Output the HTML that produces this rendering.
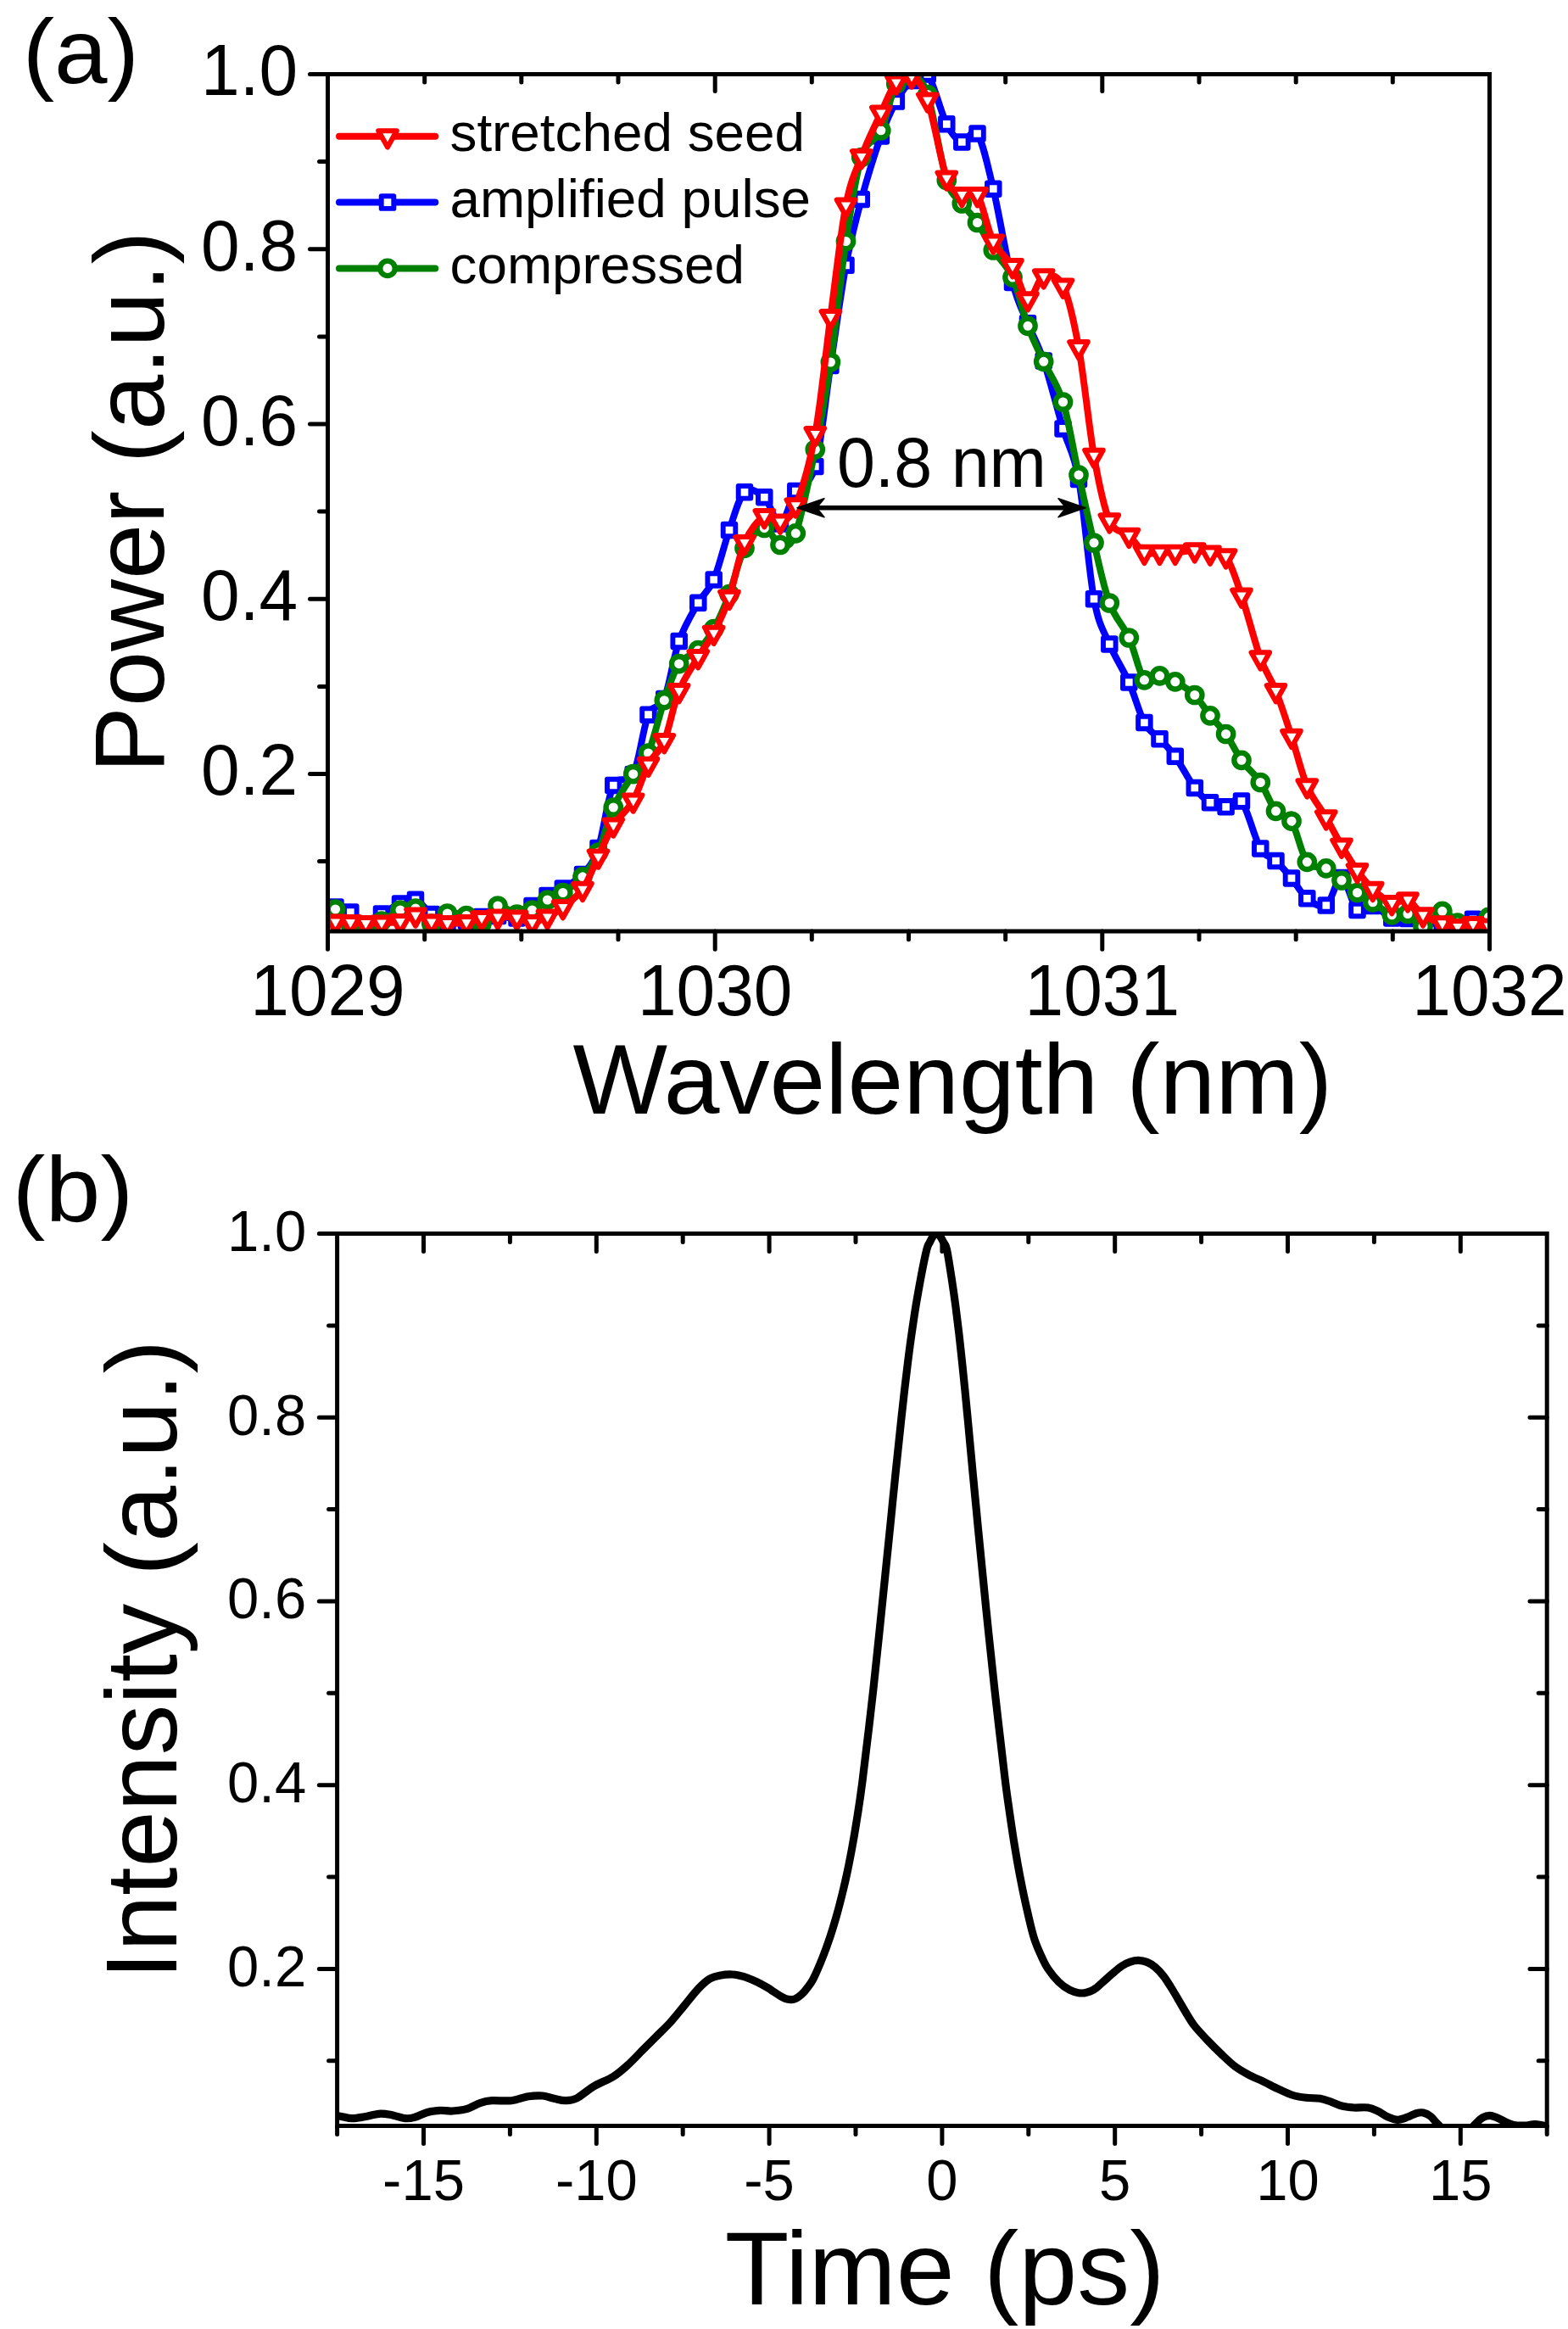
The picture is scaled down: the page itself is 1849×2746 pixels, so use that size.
<!DOCTYPE html>
<html><head><meta charset="utf-8"><title>Figure</title><style>html,body{margin:0;padding:0;background:#fff}svg{display:block}</style></head><body>
<svg width="1849" height="2746" viewBox="0 0 1849 2746" font-family='"Liberation Sans", sans-serif' fill="#000">
<rect width="1849" height="2746" fill="#fff"/>
<defs><clipPath id="ca"><rect x="386.5" y="87.5" width="1370" height="1010.5"/></clipPath><clipPath id="cb"><rect x="397.6" y="1454.5" width="1426.6" height="1052"/></clipPath></defs>
<path d="M386.5 1098.0V1119.3M500.7 1098.0V1107.8M500.7 87.5V97.0M614.8 1098.0V1107.8M614.8 87.5V97.0M729.0 1098.0V1107.8M729.0 87.5V97.0M843.2 1098.0V1119.3M843.2 87.5V107.5M957.3 1098.0V1107.8M957.3 87.5V97.0M1071.5 1098.0V1107.8M1071.5 87.5V97.0M1185.7 1098.0V1107.8M1185.7 87.5V97.0M1299.8 1098.0V1119.3M1299.8 87.5V107.5M1414.0 1098.0V1107.8M1414.0 87.5V97.0M1528.2 1098.0V1107.8M1528.2 87.5V97.0M1642.3 1098.0V1107.8M1642.3 87.5V97.0M1756.5 1098.0V1119.3M386.5 1015.6H376.5M386.5 912.5H365.5M386.5 809.4H376.5M386.5 706.2H365.5M386.5 603.1H376.5M386.5 500.0H365.5M386.5 396.9H376.5M386.5 293.7H365.5M386.5 190.6H376.5M386.5 87.5H365.5" fill="none" stroke="#000" stroke-width="5" stroke-linecap="round"/>
<g clip-path="url(#ca)">
<path d="M377.2 1069.5C380.2 1069.5 389.5 1068.5 395.5 1069.5C401.5 1070.5 407.3 1072.1 413.3 1075.5C419.3 1078.9 425.2 1089.7 431.3 1090.0C437.4 1090.3 443.2 1081.6 450.0 1077.5C456.8 1073.4 465.3 1068.3 472.0 1065.5C478.7 1062.7 483.9 1058.7 490.0 1060.8C496.1 1062.9 502.6 1073.3 508.8 1078.0C515.0 1082.7 520.6 1087.7 527.5 1089.0C534.4 1090.3 543.2 1087.3 550.0 1086.0C556.8 1084.7 561.8 1082.0 568.0 1081.0C574.2 1080.0 580.1 1079.8 587.0 1080.0C593.9 1080.2 602.8 1084.5 609.5 1082.5C616.2 1080.5 621.5 1072.4 627.5 1068.0C633.5 1063.6 639.5 1059.4 645.5 1056.0C651.5 1052.6 656.9 1051.7 663.8 1047.5C670.7 1043.3 680.0 1038.9 687.0 1031.0C694.0 1023.1 699.5 1017.5 705.5 1000.0C711.5 982.5 716.4 940.5 723.3 926.0C730.2 911.5 739.8 926.9 746.7 913.0C753.6 899.1 758.4 857.5 764.5 842.7C770.6 827.9 777.3 838.5 783.3 824.0C789.3 809.5 794.0 774.9 800.7 756.0C807.4 737.1 816.5 722.9 823.3 710.8C830.1 698.7 835.6 697.8 841.7 683.5C847.8 669.2 854.0 642.2 860.0 625.0C866.0 607.8 871.1 586.8 878.0 580.3C884.9 573.8 894.3 580.1 901.3 586.3C908.3 592.5 913.8 618.7 920.0 617.5C926.2 616.3 931.4 590.2 938.3 579.0C945.2 567.8 954.4 574.7 961.3 550.0C968.1 525.3 973.4 470.5 979.4 431.0C985.4 391.5 991.4 345.5 997.5 312.8C1003.6 280.1 1008.9 260.4 1015.8 235.0C1022.7 209.6 1032.0 179.7 1038.8 160.5C1045.6 141.3 1050.8 130.5 1056.8 119.6C1062.8 108.7 1068.8 100.3 1075.0 95.0C1081.2 89.7 1086.9 79.0 1093.8 87.5C1100.7 96.0 1109.5 133.0 1116.3 146.3C1123.0 159.6 1128.3 165.6 1134.3 167.5C1140.3 169.4 1146.3 148.3 1152.5 157.5C1158.7 166.7 1164.4 193.4 1171.3 222.7C1178.2 251.9 1187.2 306.6 1194.0 333.0C1200.8 359.4 1205.9 365.9 1212.0 381.3C1218.1 396.7 1223.8 404.8 1230.7 425.5C1237.6 446.2 1246.6 482.1 1253.5 505.4C1260.4 528.6 1265.9 531.5 1272.0 565.0C1278.1 598.5 1284.0 673.8 1290.0 706.2C1296.0 738.6 1301.4 743.1 1308.3 759.5C1315.2 775.9 1324.4 789.1 1331.3 804.5C1338.2 819.9 1343.4 840.9 1349.4 852.0C1355.4 863.1 1361.4 864.7 1367.5 871.3C1373.6 877.9 1378.9 882.2 1385.8 891.8C1392.7 901.4 1401.9 919.9 1408.8 929.0C1415.7 938.1 1420.9 942.6 1427.0 946.3C1433.1 950.0 1439.4 951.6 1445.6 951.3C1451.8 951.0 1457.2 936.4 1464.0 944.6C1470.8 952.8 1479.5 988.8 1486.3 1000.5C1493.0 1012.2 1498.4 1009.2 1504.5 1015.0C1510.6 1020.8 1516.9 1028.1 1523.0 1035.5C1529.1 1042.9 1534.5 1054.0 1541.3 1059.3C1548.1 1064.6 1557.0 1071.5 1563.8 1067.5C1570.6 1063.5 1575.9 1034.1 1582.0 1035.0C1588.1 1035.9 1594.4 1067.5 1600.5 1073.0C1606.6 1078.5 1612.0 1066.4 1618.8 1068.0C1625.6 1069.6 1634.4 1080.0 1641.3 1082.5C1648.2 1085.0 1653.9 1082.1 1660.0 1083.0C1666.1 1083.9 1671.2 1087.0 1678.0 1088.0C1684.8 1089.0 1694.0 1088.5 1700.8 1088.8C1707.6 1089.1 1712.8 1090.8 1718.8 1090.0C1724.8 1089.2 1730.9 1084.1 1737.0 1083.8C1743.1 1083.5 1749.4 1087.3 1755.5 1088.0C1761.6 1088.7 1770.8 1088.0 1773.8 1088.0" fill="none" stroke="#0000ff" stroke-width="8" stroke-linejoin="round" stroke-linecap="round"/>
<path d="M369.9 1062.2h14.6v14.6h-14.6zM388.2 1062.2h14.6v14.6h-14.6zM406.0 1068.2h14.6v14.6h-14.6zM424.0 1082.7h14.6v14.6h-14.6zM442.7 1070.2h14.6v14.6h-14.6zM464.7 1058.2h14.6v14.6h-14.6zM482.7 1053.5h14.6v14.6h-14.6zM501.5 1070.7h14.6v14.6h-14.6zM520.2 1081.7h14.6v14.6h-14.6zM542.7 1078.7h14.6v14.6h-14.6zM560.7 1073.7h14.6v14.6h-14.6zM579.7 1072.7h14.6v14.6h-14.6zM602.2 1075.2h14.6v14.6h-14.6zM620.2 1060.7h14.6v14.6h-14.6zM638.2 1048.7h14.6v14.6h-14.6zM656.5 1040.2h14.6v14.6h-14.6zM679.7 1023.7h14.6v14.6h-14.6zM698.2 992.7h14.6v14.6h-14.6zM716.0 918.7h14.6v14.6h-14.6zM739.4 905.7h14.6v14.6h-14.6zM757.2 835.4h14.6v14.6h-14.6zM776.0 816.7h14.6v14.6h-14.6zM793.4 748.7h14.6v14.6h-14.6zM816.0 703.5h14.6v14.6h-14.6zM834.4 676.2h14.6v14.6h-14.6zM852.7 617.7h14.6v14.6h-14.6zM870.7 573.0h14.6v14.6h-14.6zM894.0 579.0h14.6v14.6h-14.6zM912.7 610.2h14.6v14.6h-14.6zM931.0 571.7h14.6v14.6h-14.6zM954.0 542.7h14.6v14.6h-14.6zM972.1 423.7h14.6v14.6h-14.6zM990.2 305.5h14.6v14.6h-14.6zM1008.5 227.7h14.6v14.6h-14.6zM1031.5 153.2h14.6v14.6h-14.6zM1049.5 112.3h14.6v14.6h-14.6zM1067.7 87.7h14.6v14.6h-14.6zM1086.5 80.2h14.6v14.6h-14.6zM1109.0 139.0h14.6v14.6h-14.6zM1127.0 160.2h14.6v14.6h-14.6zM1145.2 150.2h14.6v14.6h-14.6zM1164.0 215.4h14.6v14.6h-14.6zM1186.7 325.7h14.6v14.6h-14.6zM1204.7 374.0h14.6v14.6h-14.6zM1223.4 418.2h14.6v14.6h-14.6zM1246.2 498.1h14.6v14.6h-14.6zM1264.7 557.7h14.6v14.6h-14.6zM1282.7 698.9h14.6v14.6h-14.6zM1301.0 752.2h14.6v14.6h-14.6zM1324.0 797.2h14.6v14.6h-14.6zM1342.1 844.7h14.6v14.6h-14.6zM1360.2 864.0h14.6v14.6h-14.6zM1378.5 884.5h14.6v14.6h-14.6zM1401.5 921.7h14.6v14.6h-14.6zM1419.7 939.0h14.6v14.6h-14.6zM1438.3 944.0h14.6v14.6h-14.6zM1456.7 937.3h14.6v14.6h-14.6zM1479.0 993.2h14.6v14.6h-14.6zM1497.2 1007.7h14.6v14.6h-14.6zM1515.7 1028.2h14.6v14.6h-14.6zM1534.0 1052.0h14.6v14.6h-14.6zM1556.5 1060.2h14.6v14.6h-14.6zM1574.7 1027.7h14.6v14.6h-14.6zM1593.2 1065.7h14.6v14.6h-14.6zM1611.5 1060.7h14.6v14.6h-14.6zM1634.0 1075.2h14.6v14.6h-14.6zM1652.7 1075.7h14.6v14.6h-14.6zM1670.7 1080.7h14.6v14.6h-14.6zM1693.5 1081.5h14.6v14.6h-14.6zM1711.5 1082.7h14.6v14.6h-14.6zM1729.7 1076.5h14.6v14.6h-14.6zM1748.2 1080.7h14.6v14.6h-14.6zM1766.5 1080.7h14.6v14.6h-14.6z" fill="#fff" stroke="#0000ff" stroke-width="5.9" stroke-linejoin="round"/>
<path d="M377.2 1072.0C380.2 1072.0 389.5 1069.0 395.5 1072.0C401.5 1075.0 407.3 1086.7 413.3 1090.0C419.3 1093.3 425.2 1092.7 431.3 1092.0C437.4 1091.3 443.2 1089.2 450.0 1086.0C456.8 1082.8 465.3 1075.5 472.0 1073.0C478.7 1070.5 483.9 1068.3 490.0 1071.0C496.1 1073.7 502.6 1088.0 508.8 1089.0C515.0 1090.0 520.6 1078.6 527.5 1077.0C534.4 1075.4 543.2 1077.5 550.0 1079.5C556.8 1081.5 561.8 1090.9 568.0 1089.0C574.2 1087.1 580.1 1069.8 587.0 1068.0C593.9 1066.2 602.8 1077.2 609.5 1078.0C616.2 1078.8 621.5 1075.8 627.5 1073.0C633.5 1070.2 639.5 1064.4 645.5 1061.0C651.5 1057.6 656.9 1057.0 663.8 1052.5C670.7 1048.0 680.0 1041.7 687.0 1033.8C694.0 1025.9 699.5 1018.6 705.5 1005.0C711.5 991.4 716.4 967.4 723.3 952.0C730.2 936.6 739.8 923.4 746.7 912.7C753.6 902.0 758.4 902.5 764.5 888.0C770.6 873.5 777.3 843.2 783.3 825.7C789.3 808.2 794.0 792.5 800.7 782.7C807.4 772.9 816.5 773.5 823.3 766.7C830.1 759.9 835.6 752.7 841.7 741.7C847.8 730.7 854.0 716.4 860.0 700.5C866.0 684.6 871.1 659.3 878.0 646.3C884.9 633.3 894.3 623.1 901.3 622.5C908.3 621.9 913.8 641.5 920.0 642.5C926.2 643.5 931.4 647.5 938.3 628.8C945.2 610.0 954.4 563.6 961.3 530.0C968.1 496.4 973.4 467.9 979.4 427.0C985.4 386.1 991.4 324.8 997.5 284.5C1003.6 244.2 1008.9 207.3 1015.8 185.5C1022.7 163.7 1032.0 168.2 1038.8 153.8C1045.6 139.4 1050.8 109.6 1056.8 99.0C1062.8 88.4 1068.8 87.9 1075.0 90.0C1081.2 92.1 1086.9 91.1 1093.8 111.5C1100.7 131.9 1109.5 191.1 1116.3 212.5C1123.0 233.9 1128.3 231.7 1134.3 240.0C1140.3 248.3 1146.3 253.3 1152.5 262.5C1158.7 271.7 1164.4 284.2 1171.3 295.0C1178.2 305.8 1187.2 312.1 1194.0 327.0C1200.8 341.9 1205.9 367.8 1212.0 384.3C1218.1 400.9 1223.8 411.4 1230.7 426.3C1237.6 441.2 1246.6 451.7 1253.5 474.0C1260.4 496.3 1265.9 532.3 1272.0 560.0C1278.1 587.7 1284.0 614.8 1290.0 640.0C1296.0 665.2 1301.4 692.3 1308.3 711.0C1315.2 729.7 1324.4 736.9 1331.3 752.0C1338.2 767.1 1343.4 794.3 1349.4 801.8C1355.4 809.3 1361.4 796.5 1367.5 796.8C1373.6 797.1 1378.9 800.0 1385.8 803.8C1392.7 807.6 1401.9 812.8 1408.8 819.5C1415.7 826.2 1420.9 836.1 1427.0 843.8C1433.1 851.5 1439.4 856.8 1445.6 865.5C1451.8 874.2 1457.2 886.8 1464.0 896.3C1470.8 905.8 1479.5 912.5 1486.3 922.5C1493.0 932.5 1498.4 948.7 1504.5 956.3C1510.6 963.9 1516.9 958.2 1523.0 968.2C1529.1 978.2 1534.5 1007.0 1541.3 1016.3C1548.1 1025.6 1557.0 1020.2 1563.8 1023.8C1570.6 1027.4 1575.9 1033.2 1582.0 1038.0C1588.1 1042.8 1594.4 1048.2 1600.5 1052.5C1606.6 1056.8 1612.0 1059.4 1618.8 1063.8C1625.6 1068.2 1634.4 1076.5 1641.3 1078.8C1648.2 1081.1 1653.9 1075.2 1660.0 1077.5C1666.1 1079.8 1671.2 1093.0 1678.0 1092.5C1684.8 1092.0 1694.0 1075.0 1700.8 1074.3C1707.6 1073.5 1712.8 1085.0 1718.8 1088.0C1724.8 1091.0 1730.9 1093.1 1737.0 1092.0C1743.1 1090.9 1749.4 1083.1 1755.5 1081.3C1761.6 1079.5 1770.8 1081.3 1773.8 1081.3" fill="none" stroke="#008000" stroke-width="8" stroke-linejoin="round" stroke-linecap="round"/>
<path d="M368.5 1072.0a8.7 8.7 0 1 0 17.4 0a8.7 8.7 0 1 0 -17.4 0zM386.8 1072.0a8.7 8.7 0 1 0 17.4 0a8.7 8.7 0 1 0 -17.4 0zM404.6 1090.0a8.7 8.7 0 1 0 17.4 0a8.7 8.7 0 1 0 -17.4 0zM422.6 1092.0a8.7 8.7 0 1 0 17.4 0a8.7 8.7 0 1 0 -17.4 0zM441.3 1086.0a8.7 8.7 0 1 0 17.4 0a8.7 8.7 0 1 0 -17.4 0zM463.3 1073.0a8.7 8.7 0 1 0 17.4 0a8.7 8.7 0 1 0 -17.4 0zM481.3 1071.0a8.7 8.7 0 1 0 17.4 0a8.7 8.7 0 1 0 -17.4 0zM500.1 1089.0a8.7 8.7 0 1 0 17.4 0a8.7 8.7 0 1 0 -17.4 0zM518.8 1077.0a8.7 8.7 0 1 0 17.4 0a8.7 8.7 0 1 0 -17.4 0zM541.3 1079.5a8.7 8.7 0 1 0 17.4 0a8.7 8.7 0 1 0 -17.4 0zM559.3 1089.0a8.7 8.7 0 1 0 17.4 0a8.7 8.7 0 1 0 -17.4 0zM578.3 1068.0a8.7 8.7 0 1 0 17.4 0a8.7 8.7 0 1 0 -17.4 0zM600.8 1078.0a8.7 8.7 0 1 0 17.4 0a8.7 8.7 0 1 0 -17.4 0zM618.8 1073.0a8.7 8.7 0 1 0 17.4 0a8.7 8.7 0 1 0 -17.4 0zM636.8 1061.0a8.7 8.7 0 1 0 17.4 0a8.7 8.7 0 1 0 -17.4 0zM655.1 1052.5a8.7 8.7 0 1 0 17.4 0a8.7 8.7 0 1 0 -17.4 0zM678.3 1033.8a8.7 8.7 0 1 0 17.4 0a8.7 8.7 0 1 0 -17.4 0zM696.8 1005.0a8.7 8.7 0 1 0 17.4 0a8.7 8.7 0 1 0 -17.4 0zM714.6 952.0a8.7 8.7 0 1 0 17.4 0a8.7 8.7 0 1 0 -17.4 0zM738.0 912.7a8.7 8.7 0 1 0 17.4 0a8.7 8.7 0 1 0 -17.4 0zM755.8 888.0a8.7 8.7 0 1 0 17.4 0a8.7 8.7 0 1 0 -17.4 0zM774.6 825.7a8.7 8.7 0 1 0 17.4 0a8.7 8.7 0 1 0 -17.4 0zM792.0 782.7a8.7 8.7 0 1 0 17.4 0a8.7 8.7 0 1 0 -17.4 0zM814.6 766.7a8.7 8.7 0 1 0 17.4 0a8.7 8.7 0 1 0 -17.4 0zM833.0 741.7a8.7 8.7 0 1 0 17.4 0a8.7 8.7 0 1 0 -17.4 0zM851.3 700.5a8.7 8.7 0 1 0 17.4 0a8.7 8.7 0 1 0 -17.4 0zM869.3 646.3a8.7 8.7 0 1 0 17.4 0a8.7 8.7 0 1 0 -17.4 0zM892.6 622.5a8.7 8.7 0 1 0 17.4 0a8.7 8.7 0 1 0 -17.4 0zM911.3 642.5a8.7 8.7 0 1 0 17.4 0a8.7 8.7 0 1 0 -17.4 0zM929.6 628.8a8.7 8.7 0 1 0 17.4 0a8.7 8.7 0 1 0 -17.4 0zM952.6 530.0a8.7 8.7 0 1 0 17.4 0a8.7 8.7 0 1 0 -17.4 0zM970.7 427.0a8.7 8.7 0 1 0 17.4 0a8.7 8.7 0 1 0 -17.4 0zM988.8 284.5a8.7 8.7 0 1 0 17.4 0a8.7 8.7 0 1 0 -17.4 0zM1007.1 185.5a8.7 8.7 0 1 0 17.4 0a8.7 8.7 0 1 0 -17.4 0zM1030.1 153.8a8.7 8.7 0 1 0 17.4 0a8.7 8.7 0 1 0 -17.4 0zM1048.1 99.0a8.7 8.7 0 1 0 17.4 0a8.7 8.7 0 1 0 -17.4 0zM1066.3 90.0a8.7 8.7 0 1 0 17.4 0a8.7 8.7 0 1 0 -17.4 0zM1085.1 111.5a8.7 8.7 0 1 0 17.4 0a8.7 8.7 0 1 0 -17.4 0zM1107.6 212.5a8.7 8.7 0 1 0 17.4 0a8.7 8.7 0 1 0 -17.4 0zM1125.6 240.0a8.7 8.7 0 1 0 17.4 0a8.7 8.7 0 1 0 -17.4 0zM1143.8 262.5a8.7 8.7 0 1 0 17.4 0a8.7 8.7 0 1 0 -17.4 0zM1162.6 295.0a8.7 8.7 0 1 0 17.4 0a8.7 8.7 0 1 0 -17.4 0zM1185.3 327.0a8.7 8.7 0 1 0 17.4 0a8.7 8.7 0 1 0 -17.4 0zM1203.3 384.3a8.7 8.7 0 1 0 17.4 0a8.7 8.7 0 1 0 -17.4 0zM1222.0 426.3a8.7 8.7 0 1 0 17.4 0a8.7 8.7 0 1 0 -17.4 0zM1244.8 474.0a8.7 8.7 0 1 0 17.4 0a8.7 8.7 0 1 0 -17.4 0zM1263.3 560.0a8.7 8.7 0 1 0 17.4 0a8.7 8.7 0 1 0 -17.4 0zM1281.3 640.0a8.7 8.7 0 1 0 17.4 0a8.7 8.7 0 1 0 -17.4 0zM1299.6 711.0a8.7 8.7 0 1 0 17.4 0a8.7 8.7 0 1 0 -17.4 0zM1322.6 752.0a8.7 8.7 0 1 0 17.4 0a8.7 8.7 0 1 0 -17.4 0zM1340.7 801.8a8.7 8.7 0 1 0 17.4 0a8.7 8.7 0 1 0 -17.4 0zM1358.8 796.8a8.7 8.7 0 1 0 17.4 0a8.7 8.7 0 1 0 -17.4 0zM1377.1 803.8a8.7 8.7 0 1 0 17.4 0a8.7 8.7 0 1 0 -17.4 0zM1400.1 819.5a8.7 8.7 0 1 0 17.4 0a8.7 8.7 0 1 0 -17.4 0zM1418.3 843.8a8.7 8.7 0 1 0 17.4 0a8.7 8.7 0 1 0 -17.4 0zM1436.9 865.5a8.7 8.7 0 1 0 17.4 0a8.7 8.7 0 1 0 -17.4 0zM1455.3 896.3a8.7 8.7 0 1 0 17.4 0a8.7 8.7 0 1 0 -17.4 0zM1477.6 922.5a8.7 8.7 0 1 0 17.4 0a8.7 8.7 0 1 0 -17.4 0zM1495.8 956.3a8.7 8.7 0 1 0 17.4 0a8.7 8.7 0 1 0 -17.4 0zM1514.3 968.2a8.7 8.7 0 1 0 17.4 0a8.7 8.7 0 1 0 -17.4 0zM1532.6 1016.3a8.7 8.7 0 1 0 17.4 0a8.7 8.7 0 1 0 -17.4 0zM1555.1 1023.8a8.7 8.7 0 1 0 17.4 0a8.7 8.7 0 1 0 -17.4 0zM1573.3 1038.0a8.7 8.7 0 1 0 17.4 0a8.7 8.7 0 1 0 -17.4 0zM1591.8 1052.5a8.7 8.7 0 1 0 17.4 0a8.7 8.7 0 1 0 -17.4 0zM1610.1 1063.8a8.7 8.7 0 1 0 17.4 0a8.7 8.7 0 1 0 -17.4 0zM1632.6 1078.8a8.7 8.7 0 1 0 17.4 0a8.7 8.7 0 1 0 -17.4 0zM1651.3 1077.5a8.7 8.7 0 1 0 17.4 0a8.7 8.7 0 1 0 -17.4 0zM1669.3 1092.5a8.7 8.7 0 1 0 17.4 0a8.7 8.7 0 1 0 -17.4 0zM1692.1 1074.3a8.7 8.7 0 1 0 17.4 0a8.7 8.7 0 1 0 -17.4 0zM1710.1 1088.0a8.7 8.7 0 1 0 17.4 0a8.7 8.7 0 1 0 -17.4 0zM1728.3 1092.0a8.7 8.7 0 1 0 17.4 0a8.7 8.7 0 1 0 -17.4 0zM1746.8 1081.3a8.7 8.7 0 1 0 17.4 0a8.7 8.7 0 1 0 -17.4 0zM1765.1 1081.3a8.7 8.7 0 1 0 17.4 0a8.7 8.7 0 1 0 -17.4 0z" fill="#fff" stroke="#008000" stroke-width="6.3" stroke-linejoin="round"/>
<path d="M377.2 1087.0C380.2 1087.0 389.5 1086.9 395.5 1087.0C401.5 1087.1 407.3 1087.3 413.3 1087.6C419.3 1087.9 425.2 1088.5 431.3 1088.6C437.4 1088.7 443.2 1088.3 450.0 1088.0C456.8 1087.7 465.3 1088.1 472.0 1086.6C478.7 1085.1 483.9 1078.9 490.0 1079.0C496.1 1079.1 502.6 1085.4 508.8 1087.0C515.0 1088.6 520.6 1088.5 527.5 1088.6C534.4 1088.7 543.2 1088.6 550.0 1087.6C556.8 1086.6 561.8 1083.7 568.0 1082.6C574.2 1081.5 580.1 1081.1 587.0 1081.0C593.9 1080.9 602.8 1080.9 609.5 1082.0C616.2 1083.1 621.5 1087.8 627.5 1087.6C633.5 1087.4 639.5 1084.0 645.5 1081.0C651.5 1078.0 656.9 1075.0 663.8 1069.6C670.7 1064.2 680.0 1058.3 687.0 1048.4C694.0 1038.5 699.5 1022.6 705.5 1010.0C711.5 997.4 716.4 984.0 723.3 973.0C730.2 962.0 739.8 956.0 746.7 944.0C753.6 932.0 758.4 913.0 764.5 901.3C770.6 889.6 777.3 888.0 783.3 873.6C789.3 859.2 794.0 831.1 800.7 814.6C807.4 798.1 816.5 786.0 823.3 774.6C830.1 763.2 835.6 758.0 841.7 746.3C847.8 734.6 854.0 722.1 860.0 704.3C866.0 686.5 871.1 655.5 878.0 639.6C884.9 623.7 894.3 612.7 901.3 608.6C908.3 604.5 913.8 617.2 920.0 615.1C926.2 613.0 931.4 613.1 938.3 595.9C945.2 578.6 954.4 548.6 961.3 511.6C968.1 474.6 973.4 418.5 979.4 373.6C985.4 328.7 991.4 273.6 997.5 242.1C1003.6 210.6 1008.9 202.8 1015.8 184.6C1022.7 166.4 1032.0 147.8 1038.8 133.2C1045.6 118.6 1050.8 104.2 1056.8 97.0C1062.8 89.8 1068.8 86.5 1075.0 90.0C1081.2 93.5 1086.9 98.0 1093.8 118.0C1100.7 138.0 1109.5 191.4 1116.3 210.0C1123.0 228.6 1128.3 226.3 1134.3 229.6C1140.3 232.9 1146.3 220.4 1152.5 229.6C1158.7 238.8 1164.4 271.0 1171.3 285.0C1178.2 299.0 1187.2 302.4 1194.0 313.7C1200.8 325.0 1205.9 350.8 1212.0 352.8C1218.1 354.8 1223.8 328.5 1230.7 325.9C1237.6 323.3 1246.6 323.2 1253.5 337.1C1260.4 351.1 1265.9 376.2 1272.0 409.6C1278.1 443.0 1284.0 503.2 1290.0 537.3C1296.0 571.3 1301.4 598.2 1308.3 613.9C1315.2 629.6 1324.4 625.1 1331.3 631.4C1338.2 637.6 1343.4 648.1 1349.4 651.4C1355.4 654.7 1361.4 651.4 1367.5 651.4C1373.6 651.4 1378.9 651.8 1385.8 651.4C1392.7 651.0 1401.9 648.8 1408.8 648.9C1415.7 649.0 1420.9 650.9 1427.0 652.1C1433.1 653.3 1439.4 647.6 1445.6 655.9C1451.8 664.2 1457.2 682.1 1464.0 702.1C1470.8 722.1 1479.5 757.1 1486.3 775.9C1493.0 794.6 1498.4 799.2 1504.5 814.6C1510.6 830.0 1516.9 849.7 1523.0 868.4C1529.1 887.1 1534.5 910.9 1541.3 926.8C1548.1 942.7 1557.0 952.2 1563.8 963.9C1570.6 975.6 1575.9 986.7 1582.0 997.1C1588.1 1007.5 1594.4 1018.0 1600.5 1026.6C1606.6 1035.1 1612.0 1042.1 1618.8 1048.4C1625.6 1054.7 1634.4 1062.5 1641.3 1064.6C1648.2 1066.7 1653.9 1058.5 1660.0 1060.9C1666.1 1063.3 1671.2 1074.2 1678.0 1078.9C1684.8 1083.6 1694.0 1086.6 1700.8 1088.9C1707.6 1091.2 1712.8 1092.5 1718.8 1092.6C1724.8 1092.7 1730.9 1089.7 1737.0 1089.6C1743.1 1089.5 1749.4 1091.6 1755.5 1092.0C1761.6 1092.4 1770.8 1092.0 1773.8 1092.0" fill="none" stroke="#ff0000" stroke-width="8" stroke-linejoin="round" stroke-linecap="round"/>
<path d="M366.4 1080.4L388.0 1080.4L377.2 1099.7zM384.7 1080.4L406.3 1080.4L395.5 1099.7zM402.5 1081.0L424.1 1081.0L413.3 1100.3zM420.5 1082.0L442.1 1082.0L431.3 1101.3zM439.2 1081.4L460.8 1081.4L450.0 1100.7zM461.2 1080.0L482.8 1080.0L472.0 1099.3zM479.2 1072.4L500.8 1072.4L490.0 1091.7zM498.0 1080.4L519.6 1080.4L508.8 1099.7zM516.7 1082.0L538.3 1082.0L527.5 1101.3zM539.2 1081.0L560.8 1081.0L550.0 1100.3zM557.2 1076.0L578.8 1076.0L568.0 1095.3zM576.2 1074.4L597.8 1074.4L587.0 1093.7zM598.7 1075.4L620.3 1075.4L609.5 1094.7zM616.7 1081.0L638.3 1081.0L627.5 1100.3zM634.7 1074.4L656.3 1074.4L645.5 1093.7zM653.0 1063.0L674.6 1063.0L663.8 1082.3zM676.2 1041.8L697.8 1041.8L687.0 1061.1zM694.7 1003.4L716.3 1003.4L705.5 1022.7zM712.5 966.4L734.1 966.4L723.3 985.7zM735.9 937.4L757.5 937.4L746.7 956.7zM753.7 894.7L775.3 894.7L764.5 914.0zM772.5 867.0L794.1 867.0L783.3 886.3zM789.9 808.0L811.5 808.0L800.7 827.3zM812.5 768.0L834.1 768.0L823.3 787.3zM830.9 739.7L852.5 739.7L841.7 759.0zM849.2 697.7L870.8 697.7L860.0 717.0zM867.2 633.0L888.8 633.0L878.0 652.3zM890.5 602.0L912.1 602.0L901.3 621.3zM909.2 608.5L930.8 608.5L920.0 627.8zM927.5 589.3L949.1 589.3L938.3 608.6zM950.5 505.0L972.1 505.0L961.3 524.3zM968.6 367.0L990.2 367.0L979.4 386.3zM986.7 235.5L1008.3 235.5L997.5 254.8zM1005.0 178.0L1026.6 178.0L1015.8 197.3zM1028.0 126.6L1049.6 126.6L1038.8 145.9zM1046.0 90.4L1067.6 90.4L1056.8 109.7zM1064.2 83.4L1085.8 83.4L1075.0 102.7zM1083.0 111.4L1104.6 111.4L1093.8 130.7zM1105.5 203.4L1127.1 203.4L1116.3 222.7zM1123.5 223.0L1145.1 223.0L1134.3 242.3zM1141.7 223.0L1163.3 223.0L1152.5 242.3zM1160.5 278.4L1182.1 278.4L1171.3 297.7zM1183.2 307.1L1204.8 307.1L1194.0 326.4zM1201.2 346.2L1222.8 346.2L1212.0 365.5zM1219.9 319.3L1241.5 319.3L1230.7 338.6zM1242.7 330.5L1264.3 330.5L1253.5 349.8zM1261.2 403.0L1282.8 403.0L1272.0 422.3zM1279.2 530.7L1300.8 530.7L1290.0 550.0zM1297.5 607.3L1319.1 607.3L1308.3 626.6zM1320.5 624.8L1342.1 624.8L1331.3 644.1zM1338.6 644.8L1360.2 644.8L1349.4 664.1zM1356.7 644.8L1378.3 644.8L1367.5 664.1zM1375.0 644.8L1396.6 644.8L1385.8 664.1zM1398.0 642.3L1419.6 642.3L1408.8 661.6zM1416.2 645.5L1437.8 645.5L1427.0 664.8zM1434.8 649.3L1456.4 649.3L1445.6 668.6zM1453.2 695.5L1474.8 695.5L1464.0 714.8zM1475.5 769.3L1497.1 769.3L1486.3 788.6zM1493.7 808.0L1515.3 808.0L1504.5 827.3zM1512.2 861.8L1533.8 861.8L1523.0 881.1zM1530.5 920.2L1552.1 920.2L1541.3 939.5zM1553.0 957.3L1574.6 957.3L1563.8 976.6zM1571.2 990.5L1592.8 990.5L1582.0 1009.8zM1589.7 1020.0L1611.3 1020.0L1600.5 1039.3zM1608.0 1041.8L1629.6 1041.8L1618.8 1061.1zM1630.5 1058.0L1652.1 1058.0L1641.3 1077.3zM1649.2 1054.3L1670.8 1054.3L1660.0 1073.6zM1667.2 1072.3L1688.8 1072.3L1678.0 1091.6zM1690.0 1082.3L1711.6 1082.3L1700.8 1101.6zM1708.0 1086.0L1729.6 1086.0L1718.8 1105.3zM1726.2 1083.0L1747.8 1083.0L1737.0 1102.3zM1744.7 1085.4L1766.3 1085.4L1755.5 1104.7zM1763.0 1085.4L1784.6 1085.4L1773.8 1104.7z" fill="#fff" stroke="#ff0000" stroke-width="6.0" stroke-linejoin="round"/>
</g>
<path d="M386.5 87.5H1756.5V1098.0H386.5Z" fill="none" stroke="#000" stroke-width="5"/>
<text transform="translate(351.0 937.3) scale(1.000 1.030)" font-size="82.0" text-anchor="end">0.2</text>
<text transform="translate(351.0 731.0) scale(1.000 1.030)" font-size="82.0" text-anchor="end">0.4</text>
<text transform="translate(351.0 524.8) scale(1.000 1.030)" font-size="82.0" text-anchor="end">0.6</text>
<text transform="translate(351.0 318.5) scale(1.000 1.030)" font-size="82.0" text-anchor="end">0.8</text>
<text transform="translate(351.0 112.3) scale(1.000 1.030)" font-size="82.0" text-anchor="end">1.0</text>
<text transform="translate(386.5 1197.3) scale(1.000 1.030)" font-size="82.0" text-anchor="middle">1029</text>
<text transform="translate(843.2 1197.3) scale(1.000 1.030)" font-size="82.0" text-anchor="middle">1030</text>
<text transform="translate(1299.8 1197.3) scale(1.000 1.030)" font-size="82.0" text-anchor="middle">1031</text>
<text transform="translate(1756.5 1197.3) scale(1.000 1.030)" font-size="82.0" text-anchor="middle">1032</text>
<text transform="translate(675.5 1312.7) scale(1.012 1.000)" font-size="116.8">Wavelength (nm)</text>
<text transform="translate(193.4 911.2) rotate(-90)" font-size="117.3">Power (a.u.)</text>
<text transform="translate(26.7 98.1) scale(1.012 0.966)" font-size="111.0">(a)</text>
<path d="M400 160.8H513.2" stroke="#ff0000" stroke-width="8" stroke-linecap="round" fill="none"/>
<path d="M446.2 154.2L467.8 154.2L457.0 173.5z" fill="#fff" stroke="#ff0000" stroke-width="6.0" stroke-linejoin="round"/>
<text transform="translate(530.5 178.0)" font-size="63.8">stretched seed</text>
<path d="M400 238.6H513.2" stroke="#0000ff" stroke-width="8" stroke-linecap="round" fill="none"/>
<path d="M449.7 231.3h14.6v14.6h-14.6z" fill="#fff" stroke="#0000ff" stroke-width="5.9" stroke-linejoin="round"/>
<text transform="translate(530.5 255.8)" font-size="63.8">amplified pulse</text>
<path d="M400 316.4H513.2" stroke="#008000" stroke-width="8" stroke-linecap="round" fill="none"/>
<path d="M448.3 316.4a8.7 8.7 0 1 0 17.4 0a8.7 8.7 0 1 0 -17.4 0z" fill="#fff" stroke="#008000" stroke-width="6.3" stroke-linejoin="round"/>
<text transform="translate(530.5 333.6)" font-size="63.8">compressed</text>
<path d="M960 598.8H1260" stroke="#000" stroke-width="5.5" fill="none"/>
<path d="M940 598.8L972 587.8L963 598.8L972 609.8Z" fill="#000" stroke="#000" stroke-width="1.5" stroke-linejoin="round"/>
<path d="M1280 598.8L1248 587.8L1257 598.8L1248 609.8Z" fill="#000" stroke="#000" stroke-width="1.5" stroke-linejoin="round"/>
<text transform="translate(986.9 573.7) scale(1.000 1.030)" font-size="80.8">0.8 nm</text>
<path d="M397.6 2506.6V2516.6M499.5 2506.6V2527.6M499.5 1454.5V1475.5M601.4 2506.6V2516.6M601.4 1454.5V1464.5M703.3 2506.6V2527.6M703.3 1454.5V1475.5M805.2 2506.6V2516.6M805.2 1454.5V1464.5M907.1 2506.6V2527.6M907.1 1454.5V1475.5M1009.0 2506.6V2516.6M1009.0 1454.5V1464.5M1110.9 2506.6V2527.6M1110.9 1454.5V1475.5M1212.8 2506.6V2516.6M1212.8 1454.5V1464.5M1314.7 2506.6V2527.6M1314.7 1454.5V1475.5M1416.6 2506.6V2516.6M1416.6 1454.5V1464.5M1518.5 2506.6V2527.6M1518.5 1454.5V1475.5M1620.4 2506.6V2516.6M1620.4 1454.5V1464.5M1722.3 2506.6V2527.6M1722.3 1454.5V1475.5M1824.2 2506.6V2516.6M397.6 2429.8H387.6M1824.2 2429.8H1814.2M397.6 2321.5H376.3M1824.2 2321.5H1804.0M397.6 2213.1H387.6M1824.2 2213.1H1814.2M397.6 2104.7H376.3M1824.2 2104.7H1804.0M397.6 1996.3H387.6M1824.2 1996.3H1814.2M397.6 1888.0H376.3M1824.2 1888.0H1804.0M397.6 1779.6H387.6M1824.2 1779.6H1814.2M397.6 1671.2H376.3M1824.2 1671.2H1804.0M397.6 1562.9H387.6M1824.2 1562.9H1814.2M397.6 1454.5H376.3" fill="none" stroke="#000" stroke-width="5" stroke-linecap="round"/>
<g clip-path="url(#cb)"><path d="M385.0 2494.0C387.5 2494.2 395.0 2494.4 400.0 2495.0C405.0 2495.6 410.0 2497.6 415.0 2497.7C420.0 2497.8 424.7 2496.6 430.0 2495.7C435.3 2494.8 441.7 2492.7 446.7 2492.3C451.7 2491.9 454.7 2492.4 460.0 2493.3C465.3 2494.2 473.3 2497.2 478.3 2497.7C483.3 2498.1 485.8 2497.2 490.0 2496.0C494.2 2494.8 498.6 2492.0 503.3 2490.7C508.0 2489.4 513.3 2488.6 518.3 2488.3C523.3 2488.0 528.0 2489.3 533.3 2489.0C538.6 2488.7 544.4 2488.3 550.0 2486.7C555.6 2485.1 561.7 2481.0 566.7 2479.3C571.7 2477.6 573.9 2477.1 580.0 2476.7C586.1 2476.3 596.1 2477.5 603.3 2476.7C610.5 2475.9 617.2 2472.6 623.3 2471.7C629.4 2470.8 635.0 2470.6 640.0 2471.0C645.0 2471.4 648.8 2473.4 653.3 2474.3C657.8 2475.2 662.2 2476.8 666.7 2476.7C671.2 2476.6 674.5 2476.8 680.0 2474.0C685.5 2471.2 692.8 2464.3 700.0 2460.0C707.2 2455.7 716.6 2452.5 723.3 2448.3C730.0 2444.1 734.4 2440.0 740.0 2435.0C745.6 2430.0 751.2 2423.9 756.7 2418.3C762.2 2412.8 767.8 2407.2 773.3 2401.7C778.8 2396.1 784.4 2391.1 790.0 2385.0C795.6 2378.9 801.2 2371.7 806.7 2365.0C812.2 2358.3 818.3 2350.3 823.3 2345.0C828.3 2339.7 832.2 2336.0 836.7 2333.3C841.2 2330.6 845.6 2329.9 850.0 2329.0C854.4 2328.1 859.6 2327.9 863.3 2328.0C867.0 2328.1 869.2 2328.7 872.0 2329.3C874.8 2329.9 876.5 2330.2 880.0 2331.5C883.5 2332.8 888.5 2334.8 892.8 2336.9C897.0 2339.0 902.1 2341.8 905.5 2343.8C908.9 2345.8 910.5 2347.1 913.0 2348.8C915.5 2350.5 918.5 2352.5 920.8 2353.8C923.0 2355.1 924.6 2356.0 926.5 2356.6C928.4 2357.2 930.5 2357.5 932.3 2357.6C934.0 2357.7 935.5 2357.5 937.0 2357.0C938.5 2356.5 939.6 2355.8 941.2 2354.7C942.8 2353.6 944.8 2352.0 946.5 2350.3C948.2 2348.6 949.3 2347.4 951.4 2344.5C953.5 2341.6 956.0 2339.2 959.1 2333.1C962.2 2326.9 966.8 2316.1 970.2 2307.6C973.6 2299.1 976.6 2290.5 979.4 2282.0C982.2 2273.5 984.7 2265.0 987.1 2256.5C989.5 2248.0 991.6 2239.5 993.7 2231.0C995.8 2222.5 997.7 2214.0 999.5 2205.5C1001.3 2197.0 1002.8 2189.1 1004.5 2180.0C1006.2 2170.9 1007.4 2164.3 1009.5 2151.0C1011.6 2137.7 1013.6 2126.6 1017.0 2100.0C1020.4 2073.4 1026.1 2025.3 1029.9 1991.3C1033.7 1957.2 1036.6 1927.6 1039.9 1895.7C1043.2 1863.8 1047.6 1820.7 1049.7 1800.0C1051.8 1779.3 1051.5 1782.0 1052.5 1771.7C1053.6 1761.5 1054.8 1749.6 1055.9 1738.5C1057.1 1727.4 1058.2 1716.3 1059.4 1705.3C1060.5 1694.2 1061.7 1683.2 1062.9 1672.2C1064.1 1661.2 1065.3 1650.1 1066.6 1639.0C1067.9 1627.9 1069.2 1616.8 1070.6 1605.8C1072.0 1594.8 1073.4 1583.8 1075.0 1572.7C1076.6 1561.7 1078.2 1550.6 1080.0 1539.5C1081.9 1528.4 1083.8 1517.3 1085.9 1506.3C1088.0 1495.2 1091.1 1480.1 1092.8 1473.2C1094.6 1466.3 1095.1 1467.4 1096.3 1464.9C1097.5 1462.4 1098.7 1459.7 1100.0 1458.0C1101.3 1456.3 1102.9 1455.0 1104.4 1455.0C1105.9 1455.0 1107.4 1456.3 1108.8 1458.0C1110.2 1459.7 1111.4 1462.4 1112.7 1464.9C1114.0 1467.4 1114.9 1466.3 1116.5 1473.2C1118.0 1480.1 1120.3 1495.2 1122.0 1506.3C1123.7 1517.3 1125.3 1528.4 1126.8 1539.5C1128.2 1550.6 1129.6 1561.7 1130.9 1572.7C1132.1 1583.8 1133.3 1594.8 1134.5 1605.8C1135.7 1616.8 1136.8 1627.9 1137.9 1639.0C1139.0 1650.1 1140.0 1661.2 1141.1 1672.2C1142.2 1683.2 1143.2 1694.2 1144.2 1705.3C1145.3 1716.3 1146.3 1727.4 1147.3 1738.5C1148.4 1749.6 1149.5 1761.5 1150.5 1771.7C1151.5 1782.0 1151.2 1779.3 1153.2 1800.0C1155.2 1820.7 1159.5 1863.8 1162.7 1895.7C1166.0 1927.6 1169.1 1958.1 1172.8 1991.3C1176.5 2024.5 1182.0 2071.5 1184.8 2095.0C1187.7 2118.5 1187.9 2118.9 1189.8 2132.1C1191.7 2145.3 1193.8 2160.2 1196.1 2174.2C1198.4 2188.2 1200.8 2202.3 1203.6 2216.3C1206.3 2230.3 1209.9 2246.7 1212.6 2258.4C1215.3 2270.1 1217.1 2278.2 1219.8 2286.4C1222.4 2294.6 1225.8 2301.7 1228.5 2307.5C1231.2 2313.3 1232.6 2316.6 1235.9 2321.5C1239.2 2326.4 1244.4 2332.9 1248.6 2337.0C1252.8 2341.1 1256.8 2343.9 1261.2 2346.1C1265.6 2348.3 1270.5 2350.0 1275.2 2350.0C1279.9 2350.0 1285.1 2348.3 1289.3 2346.1C1293.5 2343.9 1296.8 2340.2 1300.5 2337.0C1304.2 2333.8 1308.0 2330.3 1311.7 2327.1C1315.4 2323.9 1319.4 2320.3 1322.9 2318.0C1326.4 2315.7 1329.5 2314.2 1332.8 2313.1C1336.1 2312.0 1339.3 2311.3 1342.6 2311.4C1345.9 2311.5 1349.1 2312.1 1352.4 2313.4C1355.7 2314.7 1358.9 2316.7 1362.2 2319.4C1365.5 2322.2 1369.0 2326.0 1372.0 2329.9C1375.0 2333.8 1377.7 2338.2 1380.5 2342.6C1383.3 2347.0 1385.9 2351.5 1388.9 2356.6C1391.9 2361.7 1395.3 2367.7 1398.5 2373.0C1401.7 2378.3 1404.2 2383.0 1408.3 2388.3C1412.4 2393.6 1418.0 2399.4 1423.3 2405.0C1428.6 2410.6 1434.4 2416.4 1440.0 2421.7C1445.6 2427.0 1451.2 2432.5 1456.7 2436.7C1462.2 2440.9 1467.8 2443.8 1473.3 2446.7C1478.8 2449.6 1484.4 2451.6 1490.0 2454.3C1495.6 2457.0 1501.2 2460.1 1506.7 2462.7C1512.2 2465.3 1517.8 2468.2 1523.3 2470.0C1528.8 2471.8 1534.4 2472.6 1540.0 2473.3C1545.6 2474.0 1551.7 2473.5 1556.7 2474.3C1561.7 2475.1 1565.6 2476.8 1570.0 2478.3C1574.4 2479.8 1578.8 2482.2 1583.3 2483.3C1587.8 2484.4 1591.7 2484.7 1596.7 2485.0C1601.7 2485.3 1608.6 2484.3 1613.3 2485.0C1618.0 2485.7 1621.1 2487.5 1625.0 2489.3C1628.9 2491.1 1632.8 2494.3 1636.7 2496.0C1640.6 2497.7 1644.4 2499.3 1648.3 2499.3C1652.2 2499.3 1656.4 2497.3 1660.0 2496.0C1663.6 2494.7 1667.0 2492.5 1670.0 2491.7C1673.0 2490.9 1675.5 2490.4 1678.3 2491.0C1681.1 2491.6 1683.9 2492.8 1686.7 2495.0C1689.5 2497.2 1691.8 2500.8 1695.0 2504.0C1698.2 2507.2 1702.2 2511.7 1706.0 2514.0C1709.8 2516.3 1714.0 2518.0 1718.0 2518.0C1722.0 2518.0 1726.3 2516.3 1730.0 2514.0C1733.7 2511.7 1737.0 2506.9 1740.0 2504.0C1743.0 2501.1 1745.5 2498.3 1748.3 2496.7C1751.1 2495.1 1753.9 2494.3 1756.7 2494.3C1759.5 2494.3 1762.0 2495.5 1765.0 2496.7C1768.0 2497.9 1771.7 2500.2 1775.0 2501.7C1778.3 2503.2 1780.8 2504.8 1785.0 2505.5C1789.2 2506.2 1795.8 2506.2 1800.0 2506.0C1804.2 2505.8 1806.0 2504.3 1810.0 2504.5C1814.0 2504.7 1819.0 2505.8 1824.0 2507.0C1829.0 2508.2 1837.3 2511.2 1840.0 2512.0" fill="none" stroke="#000" stroke-width="9.2" stroke-linejoin="round"/></g>
<path d="M397.6 1454.5H1824.2V2506.6H397.6Z" fill="none" stroke="#000" stroke-width="5"/>
<text transform="translate(361.2 2341.8) scale(1.000 1.035)" font-size="67.0" text-anchor="end">0.2</text>
<text transform="translate(361.2 2125.0) scale(1.000 1.035)" font-size="67.0" text-anchor="end">0.4</text>
<text transform="translate(361.2 1908.3) scale(1.000 1.035)" font-size="67.0" text-anchor="end">0.6</text>
<text transform="translate(361.2 1691.5) scale(1.000 1.035)" font-size="67.0" text-anchor="end">0.8</text>
<text transform="translate(361.2 1474.8) scale(1.000 1.035)" font-size="67.0" text-anchor="end">1.0</text>
<text transform="translate(499.5 2593.6) scale(1.000 1.035)" font-size="67.0" text-anchor="middle">-15</text>
<text transform="translate(703.3 2593.6) scale(1.000 1.035)" font-size="67.0" text-anchor="middle">-10</text>
<text transform="translate(907.1 2593.6) scale(1.000 1.035)" font-size="67.0" text-anchor="middle">-5</text>
<text transform="translate(1110.9 2593.6) scale(1.000 1.035)" font-size="67.0" text-anchor="middle">0</text>
<text transform="translate(1314.7 2593.6) scale(1.000 1.035)" font-size="67.0" text-anchor="middle">5</text>
<text transform="translate(1518.5 2593.6) scale(1.000 1.035)" font-size="67.0" text-anchor="middle">10</text>
<text transform="translate(1722.3 2593.6) scale(1.000 1.035)" font-size="67.0" text-anchor="middle">15</text>
<text transform="translate(854.8 2716.8) scale(1.020 1.000)" font-size="121.5">Time (ps)</text>
<text transform="translate(207.8 2333.9) rotate(-90)" font-size="119.0">Intensity (a.u.)</text>
<text transform="translate(14.6 1439.7) scale(1.033 0.975)" font-size="113.0">(b)</text>
</svg>
</body></html>
